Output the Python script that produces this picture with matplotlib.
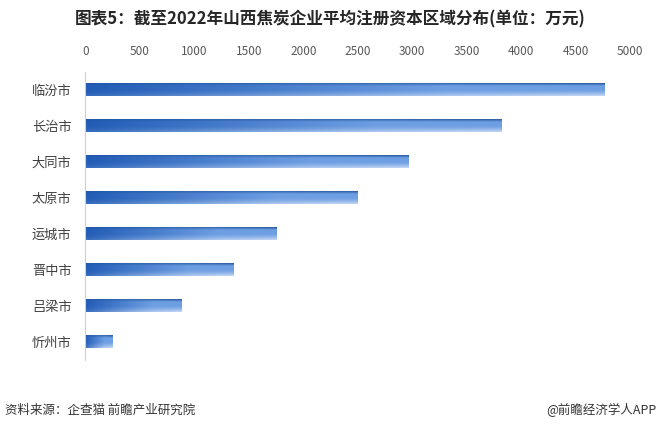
import numpy as np
import matplotlib
matplotlib.use("Agg")
import matplotlib.pyplot as plt

plt.rcParams['font.family'] = ['Noto Sans CJK SC', 'DejaVu Sans']

# data
cities = ["临汾市", "长治市", "大同市", "太原市", "运城市", "晋中市", "吕梁市", "忻州市"]
capital = [4770, 3825, 2970, 2500, 1760, 1365, 885, 250]
xticks = [0, 500, 1000, 1500, 2000, 2500, 3000, 3500, 4000, 4500, 5000]

title = "图表5：截至2022年山西焦炭企业平均注册资本区域分布(单位：万元)"
source = "资料来源：企查猫 前瞻产业研究院"
brand = "@前瞻经济学人APP"

fig = plt.figure(figsize=(6.6, 4.32), dpi=100)
ax = fig.add_axes([0.1295, 0.1667, 0.825, 0.6666])

# gradient for one bar: dark blue on the left, lighter to the right,
# dark line along the top, paler along the bottom
dark = np.array([0.13, 0.36, 0.71])
light = np.array([0.43, 0.62, 0.89])
nx, ny = 200, 24
t = np.linspace(0, 1, nx)[None, :, None]
s = np.linspace(0, 1, ny)[:, None, None]
tt = np.minimum(t / 0.7, 1.0)
grad = dark + (light - dark) * tt
top = np.clip(1 - s / 0.2, 0, 1) * (0.3 + 0.5 * t)
grad = grad * (1 - top) + dark * 0.8 * top
fade = np.clip((s - 0.5) / 0.5, 0, 1) ** 1.5 * (0.1 + 0.5 * t)
grad = grad * (1 - fade) + fade
grad = np.clip(grad, 0, 1)

h = 0.35
for i, v in enumerate(capital):
    ax.imshow(grad, extent=(0, v, i + h / 2, i - h / 2), aspect='auto',
              interpolation='bilinear', zorder=2)

ax.set_xlim(0, 5000)
ax.set_ylim(len(cities) - 0.5, -0.5)
ax.set_yticks(range(len(cities)))
ax.set_yticklabels(cities, fontsize=9.5, color='#404040')
ax.set_xticks(xticks)
ax.set_xticklabels([str(x) for x in xticks], fontsize=8.5, color='#595959')
ax.xaxis.tick_top()
ax.tick_params(axis='x', length=0, pad=10)
ax.tick_params(axis='y', length=0, pad=10)

for side in ['top', 'right', 'bottom']:
    ax.spines[side].set_visible(False)
ax.spines['left'].set_color('#d0d0d0')
ax.spines['left'].set_linewidth(0.8)

fig.text(0.5, 0.955, title, ha='center', va='center', fontsize=12,
         fontweight='bold', color='#262626')
fig.text(0.008, 0.05, source, ha='left', va='center', fontsize=9, color='#333333')
fig.text(0.995, 0.05, brand, ha='right', va='center', fontsize=9, color='#333333')

fig.savefig("out.png", dpi=100)
